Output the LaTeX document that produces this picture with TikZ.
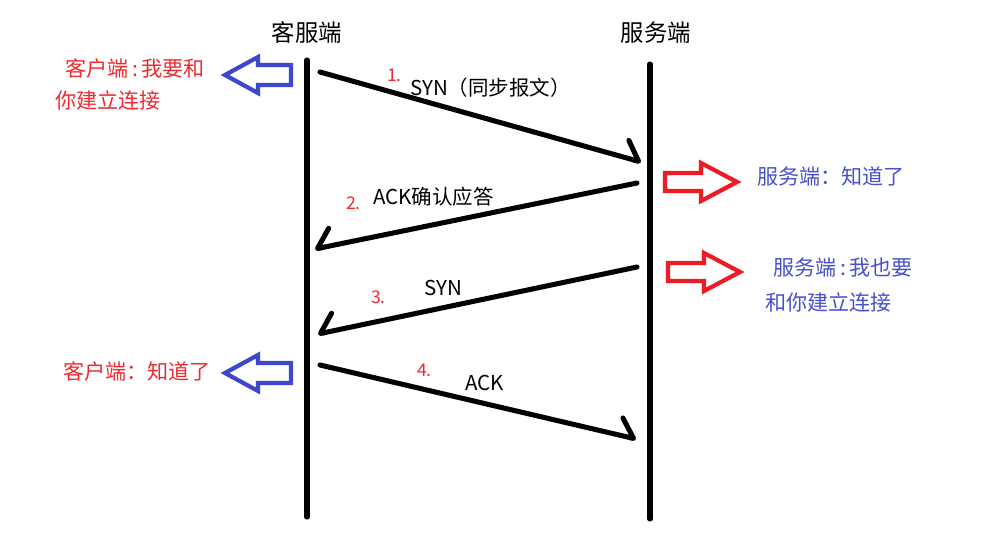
\documentclass[tikz,border=0pt]{standalone}
\usepackage{fontspec}
\setmainfont{Noto Sans CJK SC}
\usetikzlibrary{arrows.meta}
\definecolor{NoteRed}{HTML}{EE2A30}
\definecolor{NoteBlue}{HTML}{4650CC}
\definecolor{ArrRed}{HTML}{ED1C24}
\definecolor{ArrBlue}{HTML}{3F48CC}
\newcommand{\hcolon}{\hspace{3pt}:\hspace{3pt}}
\tikzset{life/.style={line width=4.3pt,line cap=round},msg/.style={line width=4.3pt,line cap=round},
 barbL/.style={-{Straight Barb[left,length=4.5mm,width=10.5mm,round]}},
 barbR/.style={-{Straight Barb[right,length=4.5mm,width=10.5mm,round]}},
 head/.style={inner sep=0pt,font=\fontsize{20}{24}\selectfont},
 lbl/.style={anchor=west,inner sep=0pt,font=\fontsize{17.5}{21}\selectfont},
 num/.style={anchor=west,inner sep=0pt,text=NoteRed,font=\fontsize{15}{18}\selectfont},
 note/.style={anchor=west,inner sep=0pt,font=\fontsize{18}{22}\selectfont},
 hollowL/.pic={\draw[ArrBlue,line width=3.6pt,fill=white] (0,0)--(33,-18)--(33,-10)--(66,-10)
  --(66,10)--(33,10)--(33,18)--cycle;},
 hollowR/.pic={\draw[ArrRed,line width=3.6pt,fill=white] (0,0)--(-36,-19)--(-36,-9)--(-72,-9)
  --(-72,9)--(-36,9)--(-36,19)--cycle;}}
\begin{document}
\begin{tikzpicture}[x=0.03cm,y=-0.03cm]
\useasboundingbox (0,0) rectangle (1002,533);
% lifelines
\node[head] (cli) at (307,33) {客服端};
\node[head] (srv) at (656,33) {服务端};
\coordinate (cTop) at (307,60); \coordinate (cBot) at (307,517);
\coordinate (sTop) at (650,64); \coordinate (sBot) at (650,519);
\draw[life] (cTop)--(cBot);
\draw[life] (sTop)--(sBot);
% messages
\coordinate (c1) at (320,72);  \coordinate (s1) at (641,162);
\coordinate (s2) at (637,183); \coordinate (c2) at (315,249);
\coordinate (s3) at (637,267); \coordinate (c3) at (318,334);
\coordinate (c4) at (320,365); \coordinate (s4) at (636,439);
\draw[msg,barbL] (c1)--(s1);
\draw[msg,barbR] (s2)--(c2);
\draw[msg,barbR] (s3)--(c3);
\draw[msg,barbL] (c4)--(s4);
\node[num] (n1) at (387,75) {1.};  \node[lbl] (l1) at (410,88) {SYN（同步报文）};
\node[num] (n2) at (346,203) {2.}; \node[lbl] (l2) at (373,197) {ACK确认应答};
\node[num] (n3) at (371,297) {3.}; \node[lbl] (l3) at (424,288) {SYN};
\node[num] (n4) at (417,370) {4.}; \node[lbl] (l4) at (465,383) {ACK};
% notes
\pic at (225,75) {hollowL};
\pic at (225,373) {hollowL};
\pic at (737,182) {hollowR};
\pic at (740,272) {hollowR};
\node[note,text=NoteRed] (t1) at (65,68) {客户端\hcolon 我要和};
\node[note,text=NoteRed] (t1b) at (55,100) {你建立连接};
\node[note,text=NoteBlue] (t2) at (757,176) {服务端：知道了};
\node[note,text=NoteBlue] (t3) at (773,268) {服务端\hcolon 我也要};
\node[note,text=NoteBlue] (t3b) at (765,302) {和你建立连接};
\node[note,text=NoteRed] (t4) at (63,371) {客户端：知道了};
\end{tikzpicture}
\end{document}
